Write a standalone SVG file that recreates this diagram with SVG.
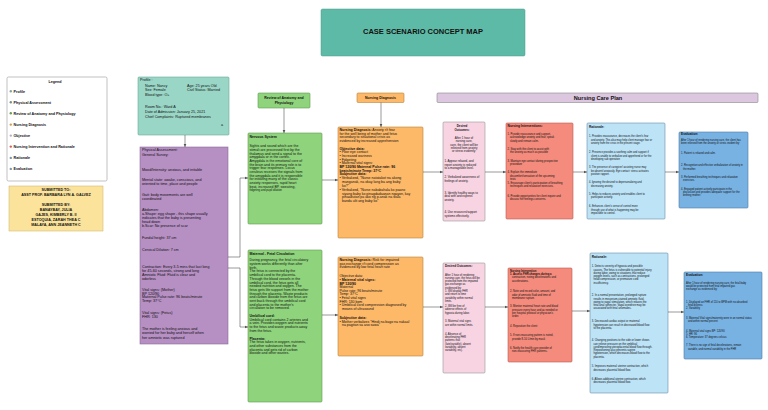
<svg xmlns="http://www.w3.org/2000/svg" width="768" height="410" viewBox="0 0 768 410">
<defs>
<marker id="ah" markerWidth="4" markerHeight="4" refX="3.5" refY="2" orient="auto" markerUnits="userSpaceOnUse">
<path d="M0,0.5 L3.5,2 L0,3.5 Z" fill="#555"/>
</marker>
</defs>
<style>
text{font-family:"Liberation Sans",Arial,sans-serif;fill:#111}
.b{font-weight:bold}
.box{stroke-width:0.6}
.con{fill:none;stroke:#555;stroke-width:0.6;marker-end:url(#ah)}
.f45{font-size:4.3px}
.f38{font-size:3.7px}
.f35{font-size:3.5px}
.f30{font-size:2.9px}
.f27{font-size:2.7px}
.f26{font-size:2.6px}
.c{text-anchor:middle}
</style>
<rect width="768" height="410" fill="#ffffff"/>

<g id="title">
<rect x="321" y="9" width="204" height="47" rx="1.5" fill="#5dbaa6" stroke="#4a9a88" stroke-width="0.5"/>
<text x="423" y="34" class="b c" style="font-size:7.5px;font-weight:900">CASE SCENARIO CONCEPT MAP</text>
</g>

<g id="legend">
<rect x="7" y="77" width="100" height="104" rx="1.5" fill="#fff" stroke="#999" stroke-width="0.6"/>
<text x="55" y="82.5" class="b c f38">Legend</text>
<g class="f38 b">
<circle cx="10.8" cy="91.2" r="1.2" fill="#7fa89c"/><text x="13.5" y="92.5">Profile</text>
<circle cx="10.8" cy="102.2" r="1.2" fill="#7a8f8a"/><text x="13.5" y="103.5">Physical Assessment</text>
<circle cx="10.8" cy="113.2" r="1.2" fill="#6a9a5a"/><text x="13.5" y="114.5">Review of Anatomy and Physiology</text>
<circle cx="10.8" cy="124.6" r="1.2" fill="#c8a060"/><text x="13.5" y="125.9">Nursing Diagnosis</text>
<circle cx="10.8" cy="135.6" r="1.2" fill="#b8b0c0"/><text x="13.5" y="136.9">Objective</text>
<circle cx="10.8" cy="146.6" r="1.2" fill="#d06060"/><text x="13.5" y="147.9">Nursing Intervention and Rationale</text>
<circle cx="10.8" cy="157.9" r="1.2" fill="#7a9ab0"/><text x="13.5" y="159.2">Rationale</text>
<circle cx="10.8" cy="168.9" r="1.2" fill="#7a9ab0"/><text x="13.5" y="170.2">Evaluation</text>
</g>
</g>

<g id="submitted">
<rect x="9" y="186" width="94" height="45" fill="#fbe39c" stroke="#c9b060" stroke-width="0.5"/>
<g class="b c f38">
<text x="56" y="190.5">SUBMITTED TO:</text>
<text x="56" y="196">ASST PROF. BARBARA LYN A. GALVEZ</text>
<text x="56" y="205.5">SUBMITTED BY:</text>
<text x="56" y="210.5">BANAYBAY, JULIA</text>
<text x="56" y="215.5">GAJES, KIMBERLY B. II</text>
<text x="56" y="220.5">ESTOQUIA, ZARAH THEA C</text>
<text x="56" y="225.5">MALAYA, ANN JEANNETH C</text>
</g>
</g>

<g id="profile">
<rect x="138" y="77" width="91" height="58" rx="1" fill="#9ad6c6" stroke="#6aa898" class="box"/>
<g class="f38">
<text x="140" y="81">Profile :</text>
<text x="145" y="86.5">Name: Nancy</text><text x="187" y="86.5">Age: 25 years Old</text>
<text x="145" y="91.3">Sex: Female</text><text x="187" y="91.3">Civil Status: Married</text>
<text x="145" y="96">Blood type: O+</text>
<text x="145" y="108.3">Room No.: Ward A</text>
<text x="145" y="113.3">Date of Admission: January 25, 2021</text>
<text x="145" y="118.3">Chief Complaints: Ruptured membranes</text>
<text x="221" y="125.5">a</text>
</g>
</g>

<g id="physical">
<rect x="140" y="147" width="88" height="197" fill="#b68fc3" stroke="#8a6a98" class="box"/>
<g class="f38">
<text x="142" y="151">Physical Assessment:</text>
<text x="142" y="155.5">General Survey:</text>
<text x="142" y="170.5">Mood/Intensity: anxious, and irritable</text>
<text x="142" y="180.5">Mental state: awake, conscious, and</text>
<text x="142" y="184.5">oriented to time, place and people</text>
<text x="142" y="195.5">Gait: body movements are well</text>
<text x="142" y="199.5">coordinated</text>
<text x="142" y="211">Abdomen:</text>
<text x="142" y="215">a.Shape: egg shape - this shape usually</text>
<text x="142" y="219">indicates that the baby is presenting</text>
<text x="142" y="223">head down</text>
<text x="142" y="227">b.Scar: No presence of scar</text>
<text x="142" y="239.3">Fundal height: 37 cm</text>
<text x="142" y="251.3">Cervical Dilation: 7 cm</text>
<text x="142" y="267.5">Contraction: Every 3-5 mins that last long</text>
<text x="142" y="271.5">for 45-60 seconds, strong and long</text>
<text x="142" y="275.5">Amniotic Fluid: Fluid is clear and</text>
<text x="142" y="279.5">odorless</text>
<text x="142" y="291">Vital signs: (Mother)</text>
<text x="142" y="294.5">BP 120/90</text>
<text x="142" y="298">Maternal Pulse rate: 96 beats/minute</text>
<text x="142" y="302">Temp: 37°C</text>
<text x="142" y="313.5">Vital signs: (Fetus)</text>
<text x="142" y="317.5">FHR: 130</text>
<text x="142" y="330.3">The mother is feeling anxious and</text>
<text x="142" y="334.3">worried for her baby and herself when</text>
<text x="142" y="338.5">her amniotic was ruptured</text>
</g>
</g>

<g id="anatomy-header">
<rect x="258" y="93" width="52" height="15" rx="1" fill="#8fd47c" stroke="#5f9a50" class="box"/>
<text x="284" y="99" class="b c f35">Review of Anatomy and</text>
<text x="284" y="103.5" class="b c f35">Physiology</text>
</g>

<g id="nervous">
<rect x="248" y="133" width="74" height="91" rx="1" fill="#8fd47c" stroke="#5f9a50" class="box"/>
<g class="f35">
<text x="249.5" y="137.5" class="b">Nervous System</text>
<text x="249.5" y="147">Sights and sound which are the</text>
<text x="249.5" y="150.8">stimuli are processed first by the</text>
<text x="249.5" y="154.5">thalamus and send a signal to the</text>
<text x="249.5" y="158.2">amygdala or in the cortex.</text>
<text x="249.5" y="161.9">Amygdala is the emotional core of</text>
<text x="249.5" y="165.6">the brain and its primary role is to</text>
<text x="249.5" y="169.3">trigger fear responses.  Locus</text>
<text x="249.5" y="173">ceruleus receives the signals from</text>
<text x="249.5" y="176.7">the amygdala and it is responsible</text>
<text x="249.5" y="180.4">for initiating many of the classic</text>
<text x="249.5" y="184.1">anxiety responses, rapid heart</text>
<text x="249.5" y="187.8">beat, increased BP, sweating,</text>
<text x="249.5" y="191.3" style="font-size:2.8px">fidgeting and pupil dilation</text>
</g>
</g>

<g id="maternal">
<rect x="248" y="250" width="74" height="152" rx="1" fill="#8fd47c" stroke="#5f9a50" class="box"/>
<g class="f35">
<text x="249.5" y="254.5" class="b">Maternal - Fetal Circulation</text>
<text x="249.5" y="261.3">During pregnancy, the fetal circulatory</text>
<text x="249.5" y="265">system works differently than after</text>
<text x="249.5" y="268.7">birth.</text>
<text x="249.5" y="272.4">The fetus is connected by the</text>
<text x="249.5" y="276.1">umbilical cord to the placenta.</text>
<text x="249.5" y="279.8">Through the blood vessels in the</text>
<text x="249.5" y="283.5">umbilical cord, the fetus gets all</text>
<text x="249.5" y="287.2">needed nutrition and oxygen. The</text>
<text x="249.5" y="290.9">fetus gets life support from the mother</text>
<text x="249.5" y="294.6">through the placenta. Waste products</text>
<text x="249.5" y="298.3">and carbon dioxide from the fetus are</text>
<text x="249.5" y="302">sent back through the umbilical cord</text>
<text x="249.5" y="305.7">and placenta to the mother's</text>
<text x="249.5" y="309.4">circulation to be removed.</text>
<text x="249.5" y="317" class="b">Umbilical cord:</text>
<text x="249.5" y="320.7">Umbilical cord contains 2 arteries and</text>
<text x="249.5" y="324.4">a vein. Provides oxygen and nutrients</text>
<text x="249.5" y="328.1">to the fetus and waste products away</text>
<text x="249.5" y="331.8">from the fetus.</text>
<text x="249.5" y="339.6" class="b">Placenta:</text>
<text x="249.5" y="343.3">The fetus takes in oxygen, nutrients,</text>
<text x="249.5" y="347">and other substances from the</text>
<text x="249.5" y="350.7">placenta and gets rid of carbon</text>
<text x="249.5" y="354.4">dioxide and other wastes.</text>
</g>
</g>

<g id="diagnosis-header">
<rect x="357" y="93" width="47" height="9.5" rx="1" fill="#fdb868" stroke="#b8843a" class="box"/>
<text x="380.5" y="99.2" class="b c f35">Nursing Diagnosis</text>
</g>

<g id="diagnosis-1">
<rect x="338" y="127" width="85" height="111" rx="1" fill="#fdb868" stroke="#b8843a" class="box"/>
<g class="f35">
<text x="339.5" y="131"><tspan class="b">Nursing Diagnosis:</tspan>          Anxiety r/t fear</text>
<text x="339.5" y="134.7">for the well being of mother and fetus</text>
<text x="339.5" y="138.4">secondary to situational crisis  as</text>
<text x="339.5" y="142.1">evidenced by increased apprehension</text>
<text x="339.5" y="149.5" class="b">Objective data:</text>
<text x="339.5" y="153.2">• Poor eye contact</text>
<text x="339.5" y="156.9">• Increased wariness</text>
<text x="339.5" y="160.6">• Fidgeting</text>
<text x="339.5" y="164.3">• Maternal vital signs:</text>
<text x="339.5" y="168" class="b">BP 120/90 Maternal Pulse rate: 96</text>
<text x="339.5" y="171.7" class="b">beats/minute Temp: 37°C</text>
<text x="339.5" y="175.4" class="b">Subjective data:</text>
<text x="339.5" y="179.1">• Verbalized, "Nurse natatakot na akong</text>
<text x="342" y="182.8">manganak, na okay lang ba ang baby</text>
<text x="342" y="186.5">ko?"</text>
<text x="339.5" y="191">• Verbalized, "Nurse nababahala ko paano</text>
<text x="342" y="194.7">siyang baby ko pinagdadaanan ngayon, kay</text>
<text x="342" y="198.4">pinaabutan pa ako ng p-anak na wala</text>
<text x="342" y="202.1">banda ulit ang baby ko"</text>
</g>
</g>

<g id="diagnosis-2">
<rect x="338" y="257" width="85" height="99" rx="1" fill="#fdb868" stroke="#b8843a" class="box"/>
<g class="f35">
<text x="339.5" y="261"><tspan class="b">Nursing Diagnosis:</tspan>         Risk for impaired</text>
<text x="339.5" y="264.6">gas exchange r/t cord compression as</text>
<text x="339.5" y="268.2">evidenced by low fetal heart rate</text>
<text x="339.5" y="277.3">Objective data:</text>
<text x="339.5" y="280.9" class="b">• Maternal vital signs:</text>
<text x="339.5" y="284.5" class="b">BP 120/90</text>
<text x="339.5" y="288.1">Maternal</text>
<text x="339.5" y="291.7">Pulse rate: 96 beats/minute</text>
<text x="339.5" y="295.3">Temp: 37°C</text>
<text x="339.5" y="298.9">• Fetal vital signs</text>
<text x="339.5" y="302.5">  FHR: 130 bpm</text>
<text x="339.5" y="306.1">• Umbilical cord compression diagnosed by</text>
<text x="342" y="309.7">means of ultrasound</text>
<text x="339.5" y="319" class="b">Subjective data:</text>
<text x="339.5" y="322.6">• Mother verbalizes "Hindi na bago na nakaal</text>
<text x="342" y="326.2">na pagitan sa aso sawa"</text>
</g>
</g>

<g id="care-plan-header">
<rect x="437" y="93" width="321" height="9.5" rx="1" fill="#dcc6e0" stroke="#888" class="box"/>
<text x="598" y="99.8" class="b c" style="font-size:5.6px">Nursing Care Plan</text>
</g>

<g id="outcomes-1">
<rect x="443" y="122" width="42" height="99" rx="1" fill="#f8d3e2" stroke="#999" class="box"/>
<g class="f30">
<text x="462" y="127" class="b c">Desired</text>
<text x="462" y="130.6" class="b c">Outcomes:</text>
<text x="464" y="139" class="c">After 1 hour of</text>
<text x="464" y="142.3" class="c">nursing care,</text>
<text x="464" y="145.6" class="c">care, the client will be</text>
<text x="464" y="148.9" class="c">relieved from anxiety</text>
<text x="464" y="152.2" class="c">or stress evidently:</text>
<text x="444.5" y="162.3">1. Appear relaxed, and</text>
<text x="444.5" y="165.6">report anxiety is reduced</text>
<text x="444.5" y="168.9">to a manageable level.</text>
<text x="444.5" y="178.3">2. Verbalized awareness of</text>
<text x="444.5" y="181.6">feelings of anxiety.</text>
<text x="444.5" y="193.9">3. Identify healthy ways to</text>
<text x="444.5" y="197.2">deal with and express</text>
<text x="444.5" y="200.5">anxiety.</text>
<text x="444.5" y="213.3">4. Use resources/support</text>
<text x="444.5" y="216.6">systems effectively.</text>
</g>
</g>

<g id="interventions-1">
<rect x="506" y="123" width="67" height="96" rx="1" fill="#f58b7c" stroke="#b85a50" class="box"/>
<g class="f27">
<text x="507.5" y="127.3" class="b" style="font-size:3.3px">Nursing Interventions:</text>
<text x="507.5" y="134.9">1. Provide reassurance and support,</text>
<text x="510" y="138.2">acknowledge anxiety and fear, speak</text>
<text x="510" y="141.5">slowly and remain calm.</text>
<text x="507.5" y="149.6">2. Stay with the client to assist with</text>
<text x="510" y="152.9">the anxiety as much as possible</text>
<text x="507.5" y="161.6">3. Maintain eye contact during prospective</text>
<text x="510" y="164.9">procedure</text>
<text x="507.5" y="173.3">4. Explain the immediate</text>
<text x="510" y="176.6">discomfort/sensation of the upcoming</text>
<text x="510" y="179.9">tests</text>
<text x="507.5" y="183.9">5. Encourage client's participation of breathing</text>
<text x="510" y="187.2">techniques and relaxation exercises.</text>
<text x="507.5" y="196.6">6. Provide opportunities for client inquire and</text>
<text x="510" y="199.9">discuss her feelings concerns.</text>
</g>
</g>

<g id="rationale-1">
<rect x="587" y="123" width="78" height="96" rx="1" fill="#bde3f7" stroke="#6a8ea8" class="box"/>
<g class="f26">
<text x="589" y="128.2" class="b" style="font-size:3.2px">Rationale:</text>
<text x="589" y="137.2">1. Provides reassurance, decreases the client's fear</text>
<text x="591" y="140.5">and anxiety. This also may help client manage fear or</text>
<text x="591" y="143.8">anxiety from the crisis in the present stage.</text>
<text x="589" y="153.2">2. Presence provides a soothing calm and support if</text>
<text x="591" y="156.5">client is unable to verbalize and apprehend or for the</text>
<text x="591" y="159.8">developing sub operation</text>
<text x="589" y="168.2">3. The presence of caregiver/ assisting nurse may</text>
<text x="591" y="171.5">be absent/ anxiously. Eye contact: stress activates</text>
<text x="591" y="174.8">positive rapport.</text>
<text x="589" y="183.2">4. Ignoring the desired to depersonalizing and</text>
<text x="591" y="186.5">decreasing anxiety.</text>
<text x="589" y="194.8">5. Helps to reduces anxiety and enables client to</text>
<text x="591" y="198.1">participate actively.</text>
<text x="589" y="207.2">6. Enhances client's sense of control more</text>
<text x="591" y="210.5">through use of what is happening may be</text>
<text x="591" y="213.8">impossible to control.</text>
</g>
</g>

<g id="evaluation-1">
<rect x="679" y="132" width="69" height="76" rx="1" fill="#78b2e2" stroke="#4a7aa8" class="box"/>
<g class="f26">
<text x="681" y="135.2" class="b" style="font-size:3.2px">Evaluation:</text>
<text x="681" y="140.5">After 1 hour of rendering nursing care, the client has</text>
<text x="681" y="143.8">been relieved from the anxiety or stress evident by:</text>
<text x="681" y="153.8">1. Patient is relaxed and calm.</text>
<text x="681" y="166.2">2. Recognition and effective verbalization of anxiety in</text>
<text x="683" y="169.5">the mother.</text>
<text x="681" y="177.8">3. Performed breathing techniques and relaxation</text>
<text x="683" y="181.1">exercises.</text>
<text x="681" y="189.5">4. Engaged patient actively participate in the</text>
<text x="683" y="192.8">discussion and provides adequate support for the</text>
<text x="683" y="196.1">birthing mother.</text>
</g>
</g>

<g id="outcomes-2">
<rect x="443" y="263" width="42" height="110" rx="1" fill="#f8d3e2" stroke="#999" class="box"/>
<g class="f27">
<text x="445" y="267.2" class="b" style="font-size:3px">Desired Outcomes:</text>
<text x="445" y="275.5">After 1 hour of rendering</text>
<text x="445" y="278.8">nursing care, the fetus will be</text>
<text x="445" y="282.1">protected from the impaired</text>
<text x="445" y="285.4">gas exchange as</text>
<text x="445" y="288.7">evidenced by:</text>
<text x="445" y="292">1. Will display        FHR</text>
<text x="445" y="295.3">and return to time</text>
<text x="445" y="298.6">variability within normal</text>
<text x="445" y="301.9">limits.</text>
<text x="445" y="307">2. Will be free of</text>
<text x="445" y="310.3">adverse effects of</text>
<text x="445" y="313.6">hypoxia during labor.</text>
<text x="445" y="322.2">3. Maternal vital signs</text>
<text x="445" y="325.5">are within normal limits.</text>
<text x="445" y="334.8">4. Absence of</text>
<text x="445" y="338.1">decelerating FHR</text>
<text x="445" y="341.4">patterns that</text>
<text x="445" y="344.7">(late/variable), absent</text>
<text x="445" y="348">variability, absent</text>
<text x="445" y="351.3">variability, etc).</text>
</g>
</g>

<g id="interventions-2">
<rect x="508" y="268" width="64" height="94" rx="1" fill="#f58b7c" stroke="#b85a50" class="box"/>
<g class="f27">
<text x="510" y="271.5" class="b">Nursing Intervention</text>
<text x="510" y="275" class="b">1. Assess FHR changes during a</text>
<text x="512" y="278.3">contraction, noting decelerations and</text>
<text x="512" y="281.6">accelerations.</text>
<text x="510" y="292.2">2. Note and record color, amount, and</text>
<text x="512" y="295.5">odor of amniotic fluid and time of</text>
<text x="512" y="298.8">membrane rupture.</text>
<text x="510" y="307.2">3. Monitor maternal heart rate and blood</text>
<text x="512" y="310.5">pressure every hour and as needed or</text>
<text x="512" y="313.8">per hospital protocol or physician's</text>
<text x="512" y="317.1">order.</text>
<text x="510" y="327.2">4. Reposition the client</text>
<text x="510" y="336.2">5. If non-reassuring pattern is noted,</text>
<text x="512" y="339.5">provide 8-10 L/min by mask</text>
<text x="510" y="348.8">6. Notify the health care provider of</text>
<text x="512" y="352.1">non-reassuring FHR patterns.</text>
</g>
</g>

<g id="rationale-2">
<rect x="590" y="253" width="78" height="140" rx="1" fill="#bde3f7" stroke="#6a8ea8" class="box"/>
<g class="f27">
<text x="591.7" y="258.2" class="b" style="font-size:3.2px">Rationale:</text>
<text x="591.7" y="267.2">1. Detects severity of hypoxia and possible</text>
<text x="593.5" y="270.5">causes. The fetus is vulnerable to potential injury</text>
<text x="593.5" y="273.8">during labor, owing to situations that reduce</text>
<text x="593.5" y="277.1">oxygen levels, such as contractions, prolonged</text>
<text x="593.5" y="280.4">head compression, or premature cord</text>
<text x="593.5" y="283.7">insufficiency.</text>
<text x="591.7" y="296.2">2. In a normal presentation, prolonged rupture</text>
<text x="593.5" y="299.5">results in meconium-stained amniotic fluid,</text>
<text x="593.5" y="302.8">owing to vagal stimulation, which relaxes the</text>
<text x="593.5" y="306.1">fetal anal sphincter. Vagal overdrive may be</text>
<text x="593.5" y="309.4">associated with fetal anomalies.</text>
<text x="591.7" y="322.2">3. Decreased cardiac output or maternal</text>
<text x="593.5" y="325.5">hypotension can result in decreased blood flow</text>
<text x="593.5" y="328.8">to the placenta.</text>
<text x="591.7" y="341.2">4. Changing positions to the side or lower shows</text>
<text x="593.5" y="344.5">can relieve pressure on the umbilical</text>
<text x="593.5" y="347.8">cord/improving uteroplacental blood flow through.</text>
<text x="593.5" y="351.1">Repositioning also prevents supine</text>
<text x="593.5" y="354.4">hypotension, which decreases blood flow to the</text>
<text x="593.5" y="357.7">placenta.</text>
<text x="591.7" y="367.2">5. Improves maternal uterine contraction, which</text>
<text x="593.5" y="370.5">decreases placental blood flow.</text>
<text x="591.7" y="379.8">6. Allows additional uterine contraction, which</text>
<text x="593.5" y="383.1">decreases placental blood flow.</text>
</g>
</g>

<g id="evaluation-2">
<rect x="684" y="272" width="78" height="87" rx="1" fill="#78b2e2" stroke="#4a7aa8" class="box"/>
<g class="f26">
<text x="686" y="276.2" class="b" style="font-size:3.2px">Evaluation:</text>
<text x="686" y="283.8">After 1 hour of rendering nursing care, the fetal baby</text>
<text x="686" y="287.1">would be protected from fetal impaired gas</text>
<text x="686" y="290.4">exchange as evidenced by:</text>
<text x="686" y="302.8">1. Displayed an FHR of 110 to BPM with no absorbed</text>
<text x="688" y="306.1">fetal distress</text>
<text x="686" y="309.4">2. Variability</text>
<text x="686" y="318.8">3. Maternal Vital signs/maternity were in an normal status</text>
<text x="688" y="322.1">and within normal percent</text>
<text x="686" y="331.5">4. Maternal vital signs BP: 120/90</text>
<text x="686" y="334.8">5. HR: 96</text>
<text x="686" y="338.1">6. Temperature: 37 degrees celsius</text>
<text x="686" y="346.2">7. There is no sign of fetal decelerations, remain</text>
<text x="688" y="349.5">variable, and normal variability in the FHR</text>
</g>
</g>

<g id="connectors">
<path class="con" d="M185 135 V147"/>
<path class="con" d="M228 257 H240 V178 H248"/>
<path class="con" d="M228 268 H240 V327 H248"/>
<path class="con" d="M284 108 V133"/>
<path class="con" d="M322 180 H338"/>
<path class="con" d="M322 315 H338"/>
<path class="con" d="M381 102.5 V127"/>
<path class="con" d="M423 172 H443"/>
<path class="con" d="M485 172 H506"/>
<path class="con" d="M573 172 H587"/>
<path class="con" d="M665 172 H679"/>
<path class="con" d="M423 307 H443"/>
<path class="con" d="M485 307 H508"/>
<path class="con" d="M572 311 H590"/>
<path class="con" d="M668 312 H684"/>
</g>
</svg>
